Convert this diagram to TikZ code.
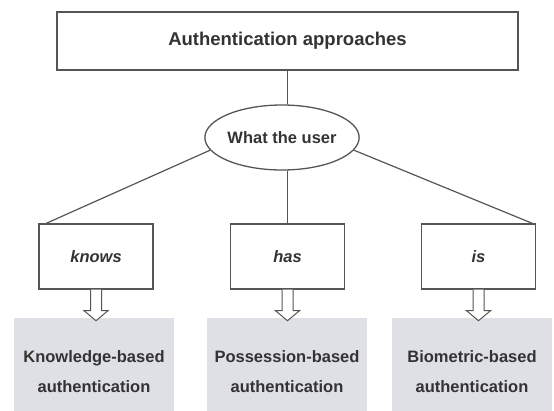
\documentclass[tikz,border=0pt]{standalone}
\usepackage{fontspec}
\setmainfont{Liberation Sans}
\usetikzlibrary{shapes.geometric}
\definecolor{edge}{RGB}{85,85,85}
\definecolor{result}{RGB}{223,224,230}

\begin{document}
\begin{tikzpicture}[x=1pt, y=-1pt,
        every node/.style={font=\fontsize{16.5}{30}\selectfont\bfseries, text=black!80},
        askbox/.style={draw=edge, line width=1.4pt, minimum width=114pt, minimum height=65pt, inner sep=0pt},
        resultbox/.style={fill=result, minimum width=160pt, minimum height=106pt, anchor=north, align=center, inner sep=0pt},
        hollow/.style={draw=edge, line width=1pt, fill=white, line join=miter},
        link/.style={draw=edge, line width=1.2pt}]
        \clip[use as bounding box] (0,0) rectangle (554,410);
        \node[draw=edge, line width=1.8pt, minimum width=461pt, minimum height=58pt, font=\fontsize{18.5}{20}\selectfont\bfseries] (top) at (287.5,41) {Authentication approaches};
        \node[draw=edge, line width=1.3pt, ellipse, minimum width=150pt, minimum height=65pt, inner sep=0pt] (user) at (282,137.5) {What the user};
        \node[askbox] (knows) at (96,256.5) {\itshape knows};
        \node[askbox] (has) at (287.5,256.5) {\itshape has};
        \node[askbox] (is) at (478.5,256.5) {\itshape is};
        \node[resultbox] (kb) at (94,318) {Knowledge-based\\authentication};
        \node[resultbox] (pb) at (287,318) {Possession-based\\authentication};
        \node[resultbox] (bb) at (472,318) {Biometric-based\\authentication};
        % hollow arrows below the three boxes
        \foreach \ask in {knows,has,is}
            \draw[hollow] (\ask.south) ++(-5.5,0) -- ++(0,21) -- ++(-6.5,0) -- ++(12,10) -- ++(12,-10) -- ++(-6.5,0) -- ++(0,-21);
        \draw[link] (top.south) -- (top.south |- user.north);
        \draw[link] (user.190) -- ([xshift=8pt]knows.north west);
        \draw[link] (has.north) -- (has.north |- user.south);
        \draw[link] (user.350) -- ([xshift=-4pt]is.north east);
    \end{tikzpicture}
\end{document}
